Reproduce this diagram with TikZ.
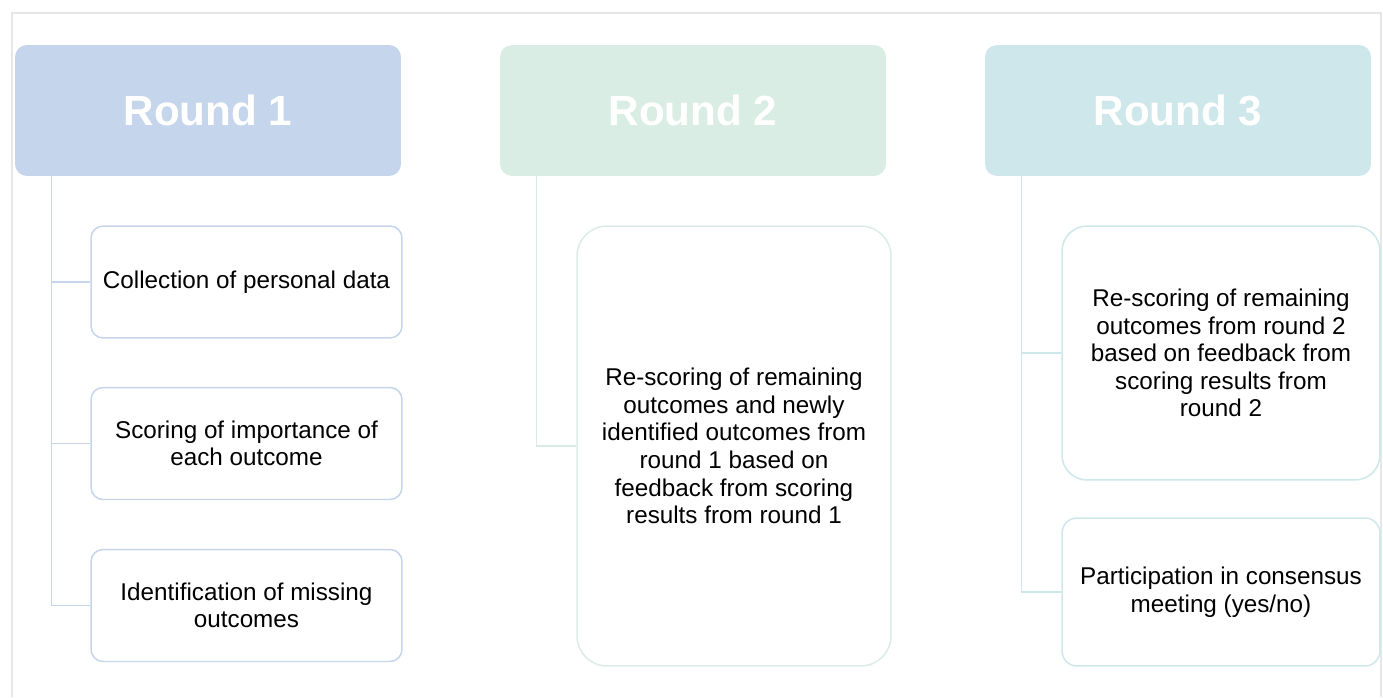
\documentclass[tikz,border=0pt]{standalone}
\usepackage{fontspec}
\setmainfont{Liberation Sans}
\usetikzlibrary{positioning}
\definecolor{roundA}{HTML}{C5D5EB}
\definecolor{roundB}{HTML}{DAEDE5}
\definecolor{roundC}{HTML}{CEE7EA}
\definecolor{framegray}{HTML}{E6E6E6}
\begin{document}
\begin{tikzpicture}[
  x=0.02cm, y=-0.02cm,
  font=\fontsize{13.8}{15.7}\selectfont,
  hdr/.style={rounded corners=0.24cm, minimum width=7.72cm,
              minimum height=2.62cm, align=center, text=white,
              font=\fontsize{24}{28}\selectfont\bfseries},
  sub/.style={draw, line width=0.85pt, fill=white, align=center,
              minimum width=6.22cm, inner sep=2pt},
  link/.style={line width=0.85pt},
]
\useasboundingbox (0,0) rectangle (1383,697);
\draw[framegray, line width=0.6pt] (12,697) -- (12,13) -- (1381,13) -- (1381,697);

% Round 1
\node[hdr, fill=roundA] (h1) at (208,110.5) {Round 1};
\node[sub, draw=roundA, rounded corners=0.24cm, minimum height=2.24cm] (c11) at (246.5,282)
  {Collection of personal data};
\node[sub, draw=roundA, rounded corners=0.24cm, minimum height=2.24cm] (c12) at (246.5,443.5)
  {Scoring of importance of\\each outcome};
\node[sub, draw=roundA, rounded corners=0.24cm, minimum height=2.24cm] (c13) at (246.5,605.5)
  {Identification of missing\\outcomes};
\draw[link, roundA] ([xshift=0.74cm]h1.south west) |- (c11.west);
\draw[link, roundA] ([xshift=0.74cm]h1.south west) |- (c12.west);
\draw[link, roundA] ([xshift=0.74cm]h1.south west) |- (c13.west);

% Round 2
\node[hdr, fill=roundB] (h2) at (693,110.5) {Round 2};
\node[sub, draw=roundB, rounded corners=0.6cm, minimum width=6.28cm,
      minimum height=8.8cm] (c21) at (734,446)
  {Re-scoring of remaining\\outcomes and newly\\identified outcomes from\\round 1 based on\\feedback from scoring\\results from round 1};
\draw[link, roundB] ([xshift=0.74cm]h2.south west) |- (c21.west);

% Round 3
\node[hdr, fill=roundC] (h3) at (1178,110.5) {Round 3};
\node[sub, draw=roundC, rounded corners=0.5cm, minimum width=6.36cm,
      minimum height=5.08cm] (c31) at (1221,353)
  {Re-scoring of remaining\\outcomes from round 2\\based on feedback from\\scoring results from\\round 2};
\node[sub, draw=roundC, rounded corners=0.3cm, minimum width=6.36cm,
      minimum height=2.96cm] (c32) at (1221,592)
  {Participation in consensus\\meeting (yes/no)};
\draw[link, roundC] ([xshift=0.74cm]h3.south west) |- (c31.west);
\draw[link, roundC] ([xshift=0.74cm]h3.south west) |- (c32.west);
\end{tikzpicture}
\end{document}
